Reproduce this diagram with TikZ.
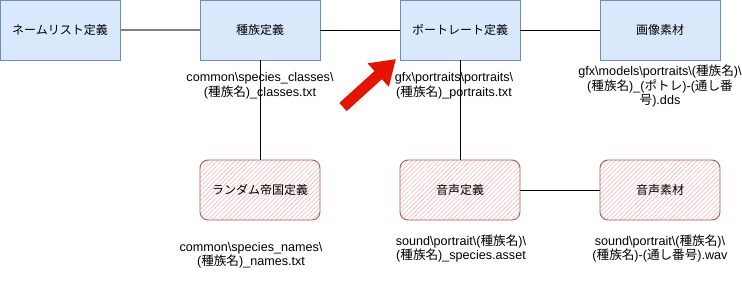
\documentclass[tikz,border=0pt]{standalone}
\usepackage{fontspec}
\setmainfont{Liberation Sans}
\newfontfamily\cjk{Noto Sans CJK JP}
\usetikzlibrary{arrows.meta,patterns.meta}
\definecolor{bluefill}{HTML}{DAE8FC}
\definecolor{bluedraw}{HTML}{6C8EBF}
\definecolor{reddraw}{HTML}{B85450}
\definecolor{hatch}{HTML}{F4BCBA}
\definecolor{arrowred}{HTML}{E51400}
\begin{document}
\begin{tikzpicture}[x=1pt,y=-1pt,
  bluebox/.style={draw=bluedraw,fill=bluefill,line width=0.9pt,minimum width=120pt,minimum height=60pt,inner sep=0pt,font=\fontsize{12}{14}\selectfont},
  redbox/.style={draw=reddraw,line width=0.9pt,rounded corners=8pt,minimum width=120pt,minimum height=60pt,inner sep=0pt,font=\fontsize{12}{14}\selectfont,
    preaction={fill=white},pattern={Lines[angle=45,distance=3.2pt,line width=0.6pt]},pattern color=hatch},
  pathlabel/.style={align=center,inner sep=0pt,font=\fontsize{12.6}{14.5}\selectfont},
  link/.style={draw=black,line width=0.8pt},
  graylink/.style={draw=gray,line width=2pt}]
\useasboundingbox (0,0) rectangle (742,292);
\node[bluebox] (nl) at (60,30) {\cjk ネームリスト定義};
\node[bluebox] (sp) at (260,30) {\cjk 種族定義};
\node[bluebox] (po) at (460,30) {\cjk ポートレート定義};
\node[bluebox] (im) at (660,30) {\cjk 画像素材};
\node[redbox] (ra) at (260,190) {\cjk ランダム帝国定義};
\node[redbox] (vo) at (460,190) {\cjk 音声定義};
\node[redbox] (vm) at (660,190) {\cjk 音声素材};
\draw[graylink] (nl) -- (sp);
\draw[link] (sp) -- (po);
\draw[link] (po) -- (im);
\draw[link] (sp) -- (ra);
\draw[link] (po) -- (vo);
\draw[link] (vo) -- (vm);
\node[pathlabel] (l1) at (260,85.5) {common\textbackslash species\_classes\textbackslash\\({\cjk 種族名})\_classes.txt};
\node[pathlabel] (l2) at (454,85.5) {gfx\textbackslash portraits\textbackslash portraits\textbackslash\\({\cjk 種族名})\_portraits.txt};
\node[pathlabel] (l3) at (660,86) {gfx\textbackslash models\textbackslash portraits\textbackslash({\cjk 種族名})\textbackslash\\({\cjk 種族名})\_({\cjk ポトレ})-({\cjk 通し番}\\{\cjk 号}).dds};
\node[pathlabel] (l4) at (251,255) {common\textbackslash species\_names\textbackslash\\({\cjk 種族名})\_names.txt};
\node[pathlabel] (l5) at (461,248.5) {sound\textbackslash portrait\textbackslash({\cjk 種族名})\textbackslash\\({\cjk 種族名})\_species.asset};
\node[pathlabel] (l6) at (660,248.5) {sound\textbackslash portrait\textbackslash({\cjk 種族名})\textbackslash\\({\cjk 種族名})-({\cjk 通し番号}).wav};
\coordinate (atail) at (343,107);
\coordinate (ahead) at (396,59);
\draw[arrowred,line width=11pt,-{Triangle[width=30pt,length=24pt]}] (atail) -- (ahead);
\end{tikzpicture}
\end{document}
